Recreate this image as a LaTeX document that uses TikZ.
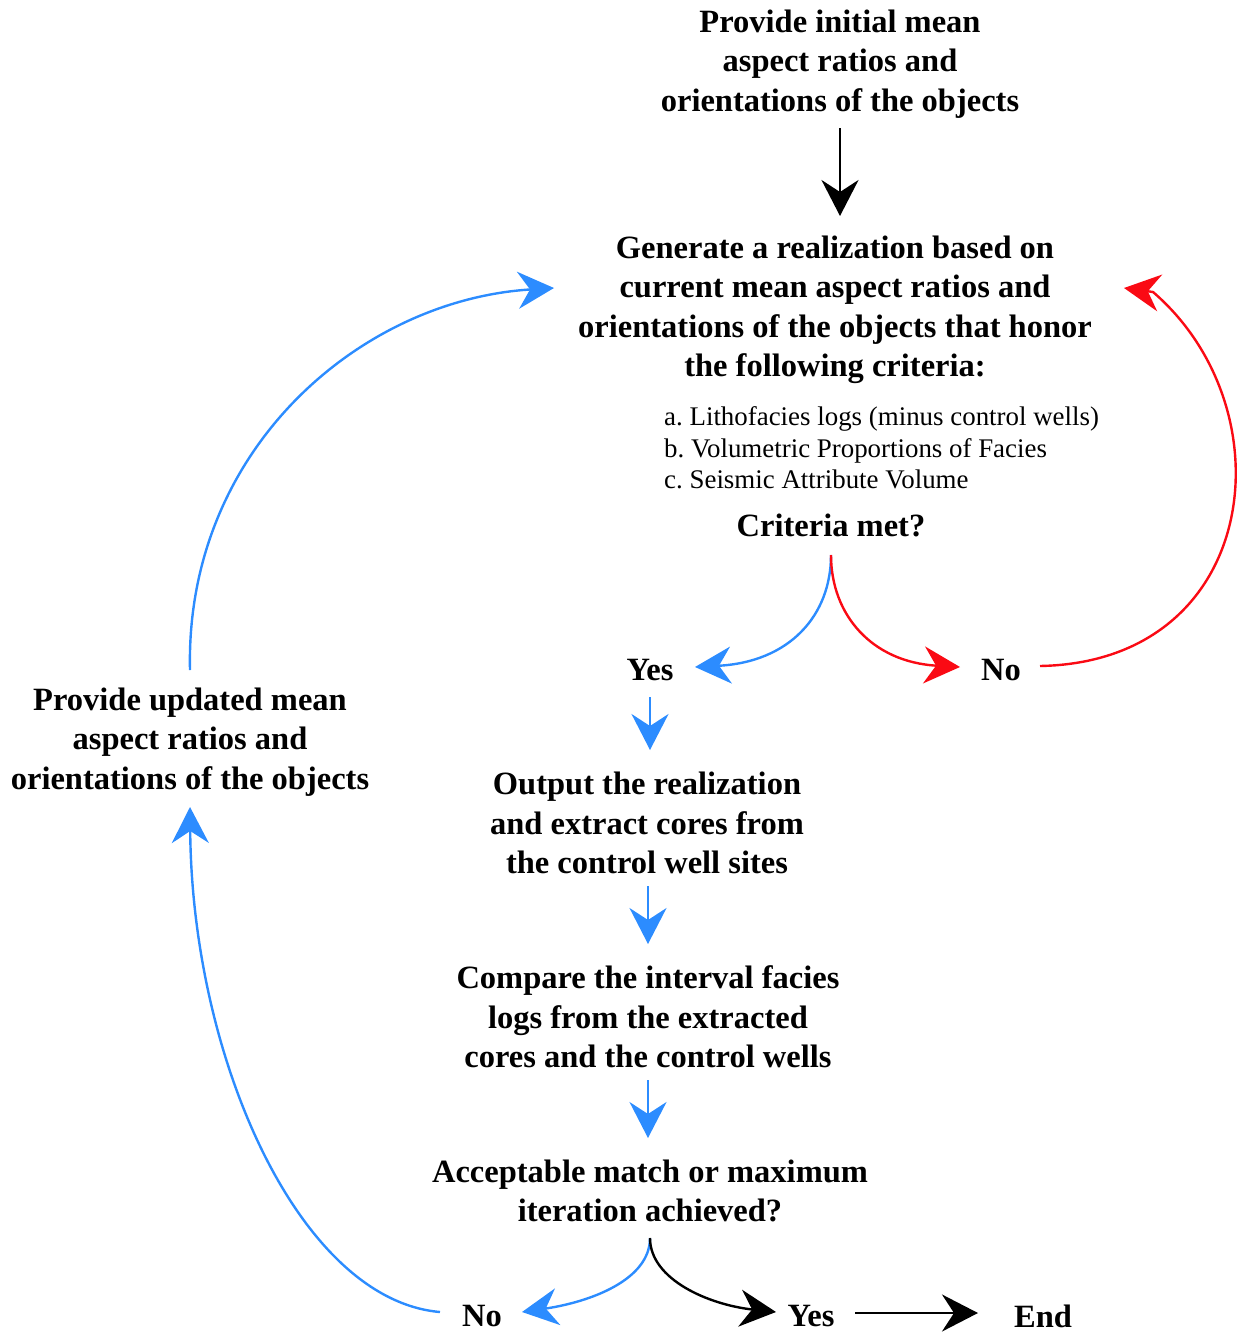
\documentclass[tikz,border=0pt]{standalone}
\usepackage{fontspec}
\setmainfont{Liberation Serif}
\usetikzlibrary{arrows.meta}
\definecolor{cblue}{RGB}{44,140,255}
\definecolor{cred}{RGB}{250,10,20}
\frenchspacing
\tikzset{
  lbl/.style={font=\fontsize{32.5}{39.4}\selectfont\bfseries, align=center, inner sep=0pt},
  lst/.style={font=\fontsize{26.9}{31.5}\selectfont, align=left, inner sep=0pt, anchor=west},
  conn/.style={line width=2.4pt, -{Stealth[length=36pt, width=37pt, inset=12pt]}},
  bconn/.style={conn, draw=cblue, -{Stealth[length=36pt, width=37pt, inset=12pt, fill=cblue]}},
  rconn/.style={conn, draw=cred, -{Stealth[length=36pt, width=37pt, inset=12pt, fill=cred]}},
  kconn/.style={conn, draw=black}
}
\begin{document}
\begin{tikzpicture}[x=1pt, y=-1pt]
\useasboundingbox (0,0) rectangle (1243,1333);
\node[lbl] (init) at (840,64) {Provide initial mean\\aspect ratios and\\orientations of the objects};
\node[lbl] (gen) at (835,310) {Generate a realization based on\\current mean aspect ratios and\\orientations of the objects that honor\\the following criteria:};
\node[lst] (crit) at (664,448) {a. Lithofacies logs (minus control wells)\\b. Volumetric Proportions of Facies\\c. Seismic Attribute Volume};
\node[lbl] (met) at (831,525) {Criteria met?};
\node[lbl] (yes1) at (650,670) {Yes};
\node[lbl] (no1) at (1001,670) {No};
\node[lbl] (out) at (647,823) {Output the realization\\and extract cores from\\the control well sites};
\node[lbl] (cmp) at (648,1017) {Compare the interval facies\\logs from the extracted\\cores and the control wells};
\node[lbl] (acc) at (650,1191) {Acceptable match or maximum\\iteration achieved?};
\node[lbl] (no2) at (482,1316) {No};
\node[lbl] (yes2) at (811,1316) {Yes};
\node[lbl] (end) at (1043,1316) {End};
\node[lbl] (upd) at (190,742) {Provide updated mean\\aspect ratios and\\orientations of the objects};

% endpoints
\coordinate (initS) at (840,128);
\coordinate (genN) at (840,216);
\coordinate (genW) at (554,288);
\coordinate (genE) at (1124,288);
\coordinate (genEb) at (1153,292);
\coordinate (metS) at (831,555);
\coordinate (yes1E) at (695,667);
\coordinate (no1W) at (960,667);
\coordinate (no1E) at (1040,666);
\coordinate (yes1S) at (650,697);
\coordinate (outN) at (650,750);
\coordinate (outS) at (648,886);
\coordinate (cmpN) at (648,944);
\coordinate (cmpS) at (648,1080);
\coordinate (accN) at (648,1138);
\coordinate (accS) at (650,1238);
\coordinate (no2E) at (522,1312);
\coordinate (yes2W) at (776,1312);
\coordinate (yes2E) at (855,1313);
\coordinate (endW) at (978,1313);
\coordinate (no2W) at (440,1312);
\coordinate (updS) at (190,807);
\coordinate (updN) at (190,670);

\draw[kconn] (initS) -- (genN);
\draw[bconn] (metS) .. controls (831,615) and (790,662) .. (yes1E);
\draw[rconn] (metS) .. controls (831,615) and (872,662) .. (no1W);
\draw[rconn] (no1E) .. controls (1260,662) and (1290,410) .. (genEb) -- (genE);
\draw[bconn] (yes1S) -- (outN);
\draw[bconn] (outS) -- (cmpN);
\draw[bconn] (cmpS) -- (accN);
\draw[bconn] (accS) .. controls (650,1280) and (590,1302) .. (no2E);
\draw[kconn] (accS) .. controls (650,1280) and (710,1305) .. (yes2W);
\draw[kconn] (yes2E) -- (endW);
\draw[bconn] (no2W) .. controls (300,1300) and (192,1060) .. (updS);
\draw[bconn] (updN) .. controls (185,450) and (360,300) .. (genW);
\end{tikzpicture}
\end{document}
